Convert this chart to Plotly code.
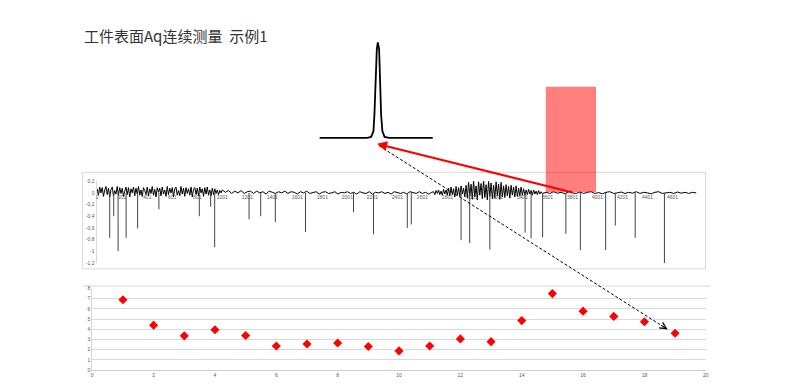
import plotly.graph_objects as go

W, H = 805, 389


def px(x):
    return x / W


def py(y):
    return 1 - y / H


title_text = "工件表面Aq连续测量  示例1"

# ---- inset peak (relative units: x offset from peak centre, y normalised height)
peak_x = [-58.7, -10.7, -6.7, -4.4, -3.4, -2.4, -1.0, 0.0, 1.3, 2.3, 3.3, 4.6, 6.8, 11.3, 55.3]
peak_y = [0.0, 0.0, 0.01, 0.07, 0.245, 0.59, 0.93, 1.0, 0.93, 0.59, 0.245, 0.07, 0.01, 0.0, 0.0]

# ---- continuous Aq signal (sample index, value)
noise_a_idx = list(range(1, 1001, 10))
noise_a_val = [
    0.07, -0.04, 0.10, 0.0, 0.09, -0.06, 0.05, 0.11, -0.03, 0.08,
    -0.07, 0.06, 0.10, -0.05, 0.04, -0.02, 0.11, -0.04, 0.09, -0.01,
    0.08, -0.06, 0.03, 0.10, -0.03, 0.09, -0.07, 0.07, 0.0, 0.10,
    -0.05, 0.08, -0.02, 0.11, -0.04, 0.05, -0.06, 0.09, 0.04, -0.03,
    0.10, -0.05, 0.07, -0.01, 0.11, -0.04, 0.06, -0.07, 0.09, 0.01,
    0.08, -0.05, 0.10, -0.02, 0.05, -0.06, 0.11, -0.03, 0.08, 0.0,
    0.09, -0.07, 0.07, 0.10, -0.04, 0.04, -0.05, 0.11, -0.02, 0.08,
    -0.06, 0.09, -0.01, 0.07, -0.04, 0.10, -0.07, 0.06, 0.09, -0.03,
    0.08, -0.05, 0.10, 0.0, 0.07, -0.06, 0.09, -0.02, 0.10, -0.04,
    0.05, -0.05, 0.08, -0.03, 0.07, -0.01, 0.05, -0.03, 0.04, 0.0]

noise_b_idx = list(range(1001, 2701, 25))
noise_b_val = [
    0.05, 0.01, 0.04, -0.01, 0.03, 0.0, 0.04, -0.01, 0.02, 0.03,
    -0.01, 0.03, 0.0, 0.02, -0.02, 0.03, 0.01, -0.01, 0.02, 0.0,
    0.03, -0.01, 0.02, 0.01, -0.02, 0.02, 0.0, 0.03, -0.01, 0.01,
    0.02, -0.02, 0.01, 0.02, -0.01, 0.0, 0.02, -0.02, 0.01, 0.0,
    0.02, -0.01, 0.01, -0.02, 0.02, 0.0, -0.01, 0.02, -0.02, 0.01,
    0.0, 0.02, -0.01, 0.01, -0.02, 0.02, 0.0, -0.01, 0.01, -0.02,
    0.02, 0.0, -0.01, 0.02, -0.01, 0.01, -0.02, 0.01]

noise_c_idx = list(range(2690, 3561, 10))
noise_c_val = [
    0.02, -0.03, 0.04, -0.01, 0.05, -0.03, 0.03, -0.04, 0.06, -0.02, 0.05, -0.04,
    0.08, -0.05, 0.10, -0.03, 0.07, -0.07, 0.11, -0.04, 0.09, -0.06, 0.12, -0.02, 0.08, -0.07, 0.13,
    -0.09, 0.18, -0.05, 0.15, -0.11, 0.21, -0.07, 0.12, -0.12, 0.19, -0.04, 0.16, -0.10, 0.22,
    -0.08, 0.14, -0.12, 0.20, -0.06, 0.17, -0.10, 0.13, -0.09, 0.19, -0.05, 0.15, -0.11, 0.18,
    -0.07, 0.12,
    -0.08, 0.14, -0.05, 0.11, -0.09, 0.13, -0.04, 0.10, -0.07, 0.12, -0.06, 0.08, -0.05, 0.10, -0.04,
    0.07, -0.04, 0.05, -0.03, 0.06, -0.02, 0.04, -0.04, 0.05, -0.02, 0.03, -0.03, 0.04, -0.02, 0.02, -0.01]

noise_d_idx = list(range(3590, 4791, 30))
noise_d_val = [
    0.01, -0.01, 0.02, -0.005, 0.01, -0.015, 0.02, 0.0, -0.01, 0.015,
    -0.01, 0.01, 0.02, -0.01, 0.005, -0.015, 0.01, 0.02, -0.01, 0.0,
    0.015, -0.01, 0.01, -0.005, 0.02, -0.01, 0.01, 0.0, -0.015, 0.01,
    0.02, -0.01, 0.005, 0.01, -0.01, 0.015, -0.005, 0.01, -0.01, 0.01, 0.0]

spike_idx = [101, 133, 168, 232, 324, 494, 817, 908, 940, 1215, 1308, 1425, 1666,
             2050, 2210, 2480, 2512, 2910, 2979, 3140, 3422, 3470, 3562, 3748, 3864,
             4066, 4143, 4302, 4536]
spike_val = [-0.77, -0.40, -1.0, -0.77, -0.61, -0.28, -0.40, -0.24, -0.93, -0.45, -0.40, -0.50, -0.67,
             -0.33, -0.71, -0.60, -0.54, -0.81, -0.86, -0.97, -0.68, -0.78, -0.76, -0.70, -0.98,
             -0.98, -0.56, -0.77, -1.21]

sig_ticks = list(range(1, 4602, 200))
sig_ytick_vals = [0.2, 0, -0.2, -0.4, -0.6, -0.8, -1.0, -1.2]
sig_ytick_text = ["0,2", "0", "-0,2", "-0,4", "-0,6", "-0,8", "-1", "-1,2"]

# ---- Aq per scan
scan_no = list(range(1, 20))
aq_vals = [6.9, 4.4, 3.35, 3.95, 3.38, 2.36, 2.55, 2.65, 2.3, 1.87,
           2.36, 3.05, 2.78, 4.85, 7.5, 5.78, 5.26, 4.74, 3.6]
scan_ticks = list(range(0, 21, 2))

# ---------------------------------------------------------------
sig_idx = noise_a_idx + noise_b_idx + noise_c_idx + noise_d_idx
sig_val = noise_a_val + noise_b_val + noise_c_val + noise_d_val

spike_x, spike_y = [], []
for i, v in zip(spike_idx, spike_val):
    spike_x += [i, i, None]
    spike_y += [0, v, None]

fig = go.Figure()
fig.add_trace(go.Scatter(x=sig_idx, y=sig_val, mode="lines",
                         line=dict(color="black", width=1),
                         xaxis="x", yaxis="y", hoverinfo="skip"))
fig.add_trace(go.Scatter(x=spike_x, y=spike_y, mode="lines",
                         line=dict(color="#444444", width=1),
                         xaxis="x", yaxis="y", hoverinfo="skip"))
fig.add_trace(go.Scatter(x=scan_no, y=aq_vals, mode="markers",
                         marker=dict(symbol="diamond", color="#ff0000", size=7),
                         xaxis="x2", yaxis="y2"))
fig.add_trace(go.Scatter(x=peak_x, y=peak_y, mode="lines",
                         line=dict(color="black", width=1.8),
                         xaxis="x3", yaxis="y3", hoverinfo="skip"))

tickfont = dict(family="Liberation Sans", size=5, color="#595959")

# middle chart mapping: idx 1 at 96.7px, 0.1257 px per sample
x_left_px, x_right_px = 96, 706
ppi = 0.1257
xr0 = 1 - (96.7 - x_left_px) / ppi
xr1 = xr0 + (x_right_px - x_left_px) / ppi

# inset mapping
pk_pad_y = 0.05
pk_dom_y = [py(137 + pk_pad_y * 97), py(40 - pk_pad_y * 97)]

fig.update_layout(
    width=W, height=H,
    margin=dict(l=0, r=0, t=0, b=0),
    paper_bgcolor="white", plot_bgcolor="rgba(0,0,0,0)",
    showlegend=False,
    font=dict(family="Liberation Sans"),
    xaxis=dict(domain=[px(x_left_px), px(x_right_px)], range=[xr0, xr1],
               anchor="free", position=py(193),
               tickmode="array", tickvals=sig_ticks, ticktext=[str(t) for t in sig_ticks],
               tickfont=tickfont, showgrid=False, zeroline=False, showline=False,
               ticks=""),
    yaxis=dict(domain=[py(264), py(181)], range=[-1.2, 0.2], anchor="x",
               tickmode="array", tickvals=sig_ytick_vals, ticktext=sig_ytick_text,
               tickfont=tickfont, showgrid=False, zeroline=False,
               showline=True, linecolor="#d9d9d9", linewidth=1, ticks=""),
    xaxis2=dict(domain=[px(91.7), px(708.3)], range=[0, 20], anchor="y2",
                tickmode="array", tickvals=scan_ticks, tickfont=tickfont,
                showgrid=False, zeroline=False, showline=True,
                linecolor="#d0d0d0", linewidth=1, ticks=""),
    yaxis2=dict(domain=[py(372.7), py(290)], range=[0, 8], anchor="x2",
                dtick=1, tickfont=tickfont, showgrid=True, gridcolor="#d9d9d9",
                gridwidth=1, zeroline=False, showline=True,
                linecolor="#d9d9d9", linewidth=1, ticks=""),
    xaxis3=dict(domain=[px(320), px(434)], range=[peak_x[0], peak_x[-1]],
                anchor="y3", visible=False),
    yaxis3=dict(domain=pk_dom_y, range=[-pk_pad_y, 1 + pk_pad_y],
                anchor="x3", visible=False),
    shapes=[
        dict(type="rect", xref="paper", yref="paper",
             x0=px(82), x1=px(708), y0=py(270), y1=py(172),
             line=dict(color="#d9d9d9", width=1), layer="below"),
        dict(type="line", xref="paper", yref="paper",
             x0=px(82), x1=px(713), y0=py(287.5), y1=py(287.5),
             line=dict(color="#d9d9d9", width=1), layer="below"),
        dict(type="rect", xref="paper", yref="paper",
             x0=px(547.5), x1=px(598), y0=py(192), y1=py(85),
             fillcolor="rgba(255,0,0,0.5)", line=dict(width=0)),
        dict(type="line", xref="paper", yref="paper",
             x0=px(380), y0=py(145), x1=px(666), y1=py(329),
             line=dict(color="black", width=1, dash="3px,2px")),
    ],
    annotations=[
        dict(text=title_text, xref="paper", yref="paper",
             x=px(81), y=py(33), xanchor="left", yanchor="middle",
             showarrow=False,
             font=dict(family="Noto Sans CJK SC", size=15, color="#333333")),
        dict(text="", xref="paper", yref="paper", x=px(378), y=py(143),
             ax=197, ay=49, showarrow=True, arrowhead=2, arrowsize=1,
             arrowwidth=2, arrowcolor="#ff0000", standoff=0),
        dict(text="", xref="paper", yref="paper", x=px(670), y=py(331.5),
             ax=-8, ay=-5, showarrow=True, arrowhead=5, arrowsize=1.3,
             arrowwidth=1, arrowcolor="black", standoff=0),
    ],
)

fig.write_html("out.html")
